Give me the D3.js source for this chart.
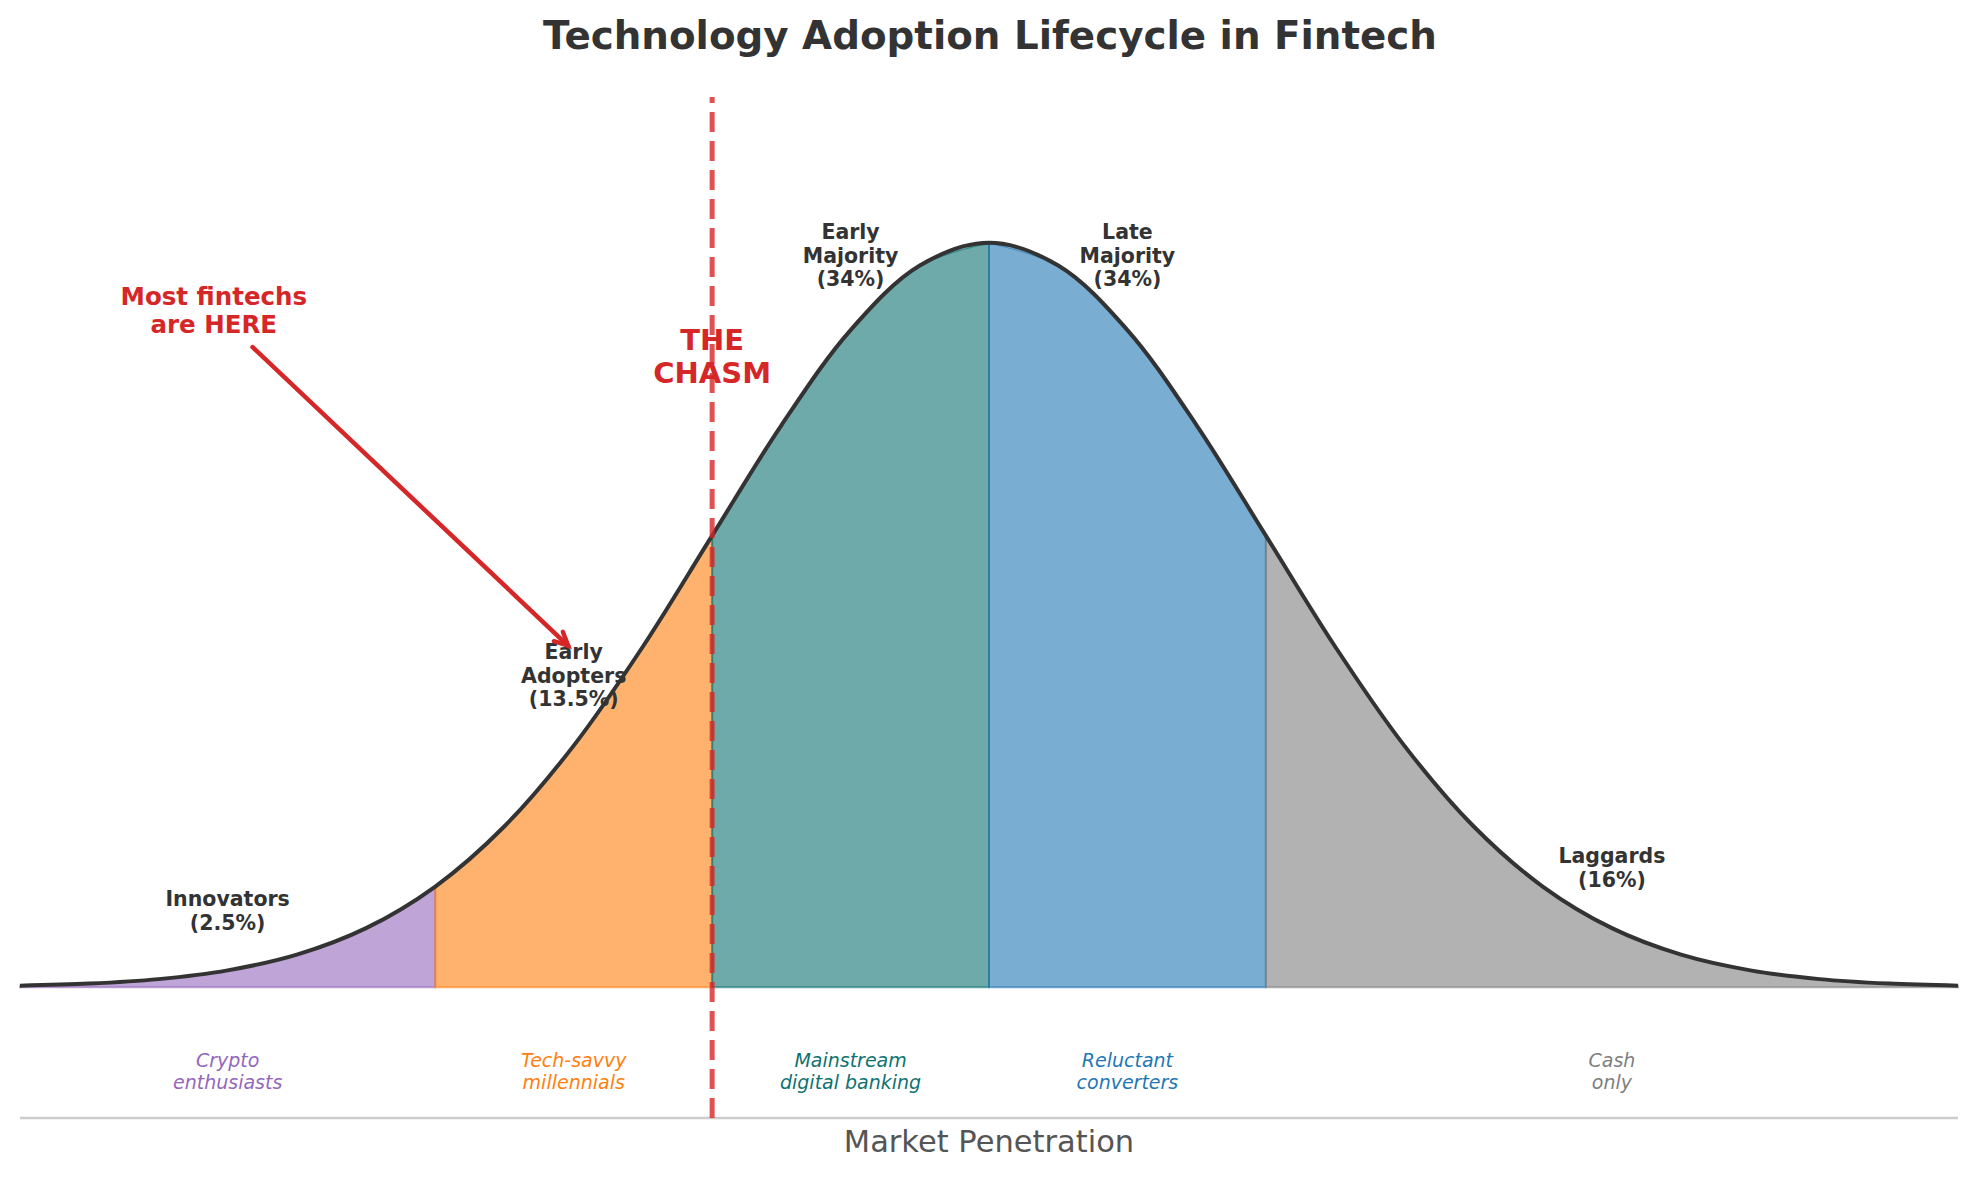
<!DOCTYPE html>
<html>
<head>
<meta charset="utf-8">
<script src="https://cdn.jsdelivr.net/npm/d3@7"></script>
<style>
  body { margin: 0; background: #fff; }
  text { font-family: "DejaVu Sans", sans-serif; }
</style>
</head>
<body>
<div id="target"></div>
<script>
// data
// =========================
// adoption curve, every 0.25 sigma
var curveX = [-3.5, -3.25, -3, -2.75, -2.5, -2.25, -2, -1.75, -1.5, -1.25, -1, -0.75, -0.5, -0.25,
              0, 0.25, 0.5, 0.75, 1, 1.25, 1.5, 1.75, 2, 2.25, 2.5, 2.75, 3, 3.25, 3.5];
var curveY = [0.0009, 0.0020, 0.0044, 0.0091, 0.0175, 0.0317, 0.0540, 0.0863, 0.1295, 0.1826, 0.2420, 0.3011, 0.3521, 0.3867,
              0.3989, 0.3867, 0.3521, 0.3011, 0.2420, 0.1826, 0.1295, 0.0863, 0.0540, 0.0317, 0.0175, 0.0091, 0.0044, 0.0020, 0.0009];

var segments = ['Innovators', 'Early Adopters', 'Early Majority', 'Late Majority', 'Laggards'];
var shares = ['2.5%', '13.5%', '34%', '34%', '16%'];
var bounds = [-3.5, -2, -1, 0, 1, 3.5];
var labelY = [0.041, 0.167, 0.392, 0.392, 0.064];
var descriptions = [['Crypto', 'enthusiasts'], ['Tech-savvy', 'millennials'], ['Mainstream', 'digital banking'],
                    ['Reluctant', 'converters'], ['Cash', 'only']];
var colors = ['#9467bd', '#ff7f0e', '#0f7272', '#1f77b4', '#7f7f7f'];

var chasmX = -1;
var chasmLabel = ['THE', 'CHASM'];
var chasmLabelY = 0.338;
var noteLines = ['Most fintechs', 'are HERE'];
var notePos = [-2.8, 0.3625];
var arrowFrom = [-2.66, 0.343];
var arrowTo = [-1.52, 0.183];

// canvas + scales
// =========================
var W = 1980, H = 1180;
var svg = d3.select('#target').append('svg')
    .attr('width', W)
    .attr('height', H);

var x = d3.scaleLinear().domain([-3.5, 3.5]).range([20, 1958]);
var y = d3.scaleLinear().domain([-0.07, 0.477]).range([1118, 97]);

var pts = curveX.map(function(d, i) { return [d, curveY[i]]; });

// multi line text centred on (cx, cy)
function block(lines, cx, cy, size, opts) {
  var lh = size * 1.15;
  var t = svg.append('text')
      .attr('text-anchor', 'middle')
      .attr('font-size', size)
      .attr('font-weight', opts.weight || 'normal')
      .attr('font-style', opts.style || 'normal')
      .attr('fill', opts.color);
  lines.forEach(function(s, i) {
    t.append('tspan')
        .attr('x', cx)
        .attr('y', cy + (i - (lines.length - 1) / 2) * lh)
        .attr('dominant-baseline', 'central')
        .text(s);
  });
  return t;
}

// filled segments
// =========================
var area = d3.area()
    .x(function(d) { return x(d[0]); })
    .y0(y(0))
    .y1(function(d) { return y(d[1]); })
    .curve(d3.curveCatmullRom);

segments.forEach(function(name, i) {
  var seg = pts.filter(function(p) { return p[0] >= bounds[i] && p[0] <= bounds[i + 1]; });
  svg.append('path')
      .datum(seg)
      .attr('d', area)
      .attr('fill', colors[i])
      .attr('fill-opacity', 0.6)
      .attr('stroke', colors[i])
      .attr('stroke-opacity', 0.6)
      .attr('stroke-width', 2);
});

// bell curve outline
var line = d3.line()
    .x(function(d) { return x(d[0]); })
    .y(function(d) { return y(d[1]); })
    .curve(d3.curveCatmullRom);

svg.append('path')
    .datum(pts)
    .attr('d', line)
    .attr('fill', 'none')
    .attr('stroke', '#333')
    .attr('stroke-width', 4);

// bottom spine
svg.append('line')
    .attr('x1', x(-3.5)).attr('x2', x(3.5))
    .attr('y1', y(-0.07)).attr('y2', y(-0.07))
    .attr('stroke', '#cccccc')
    .attr('stroke-width', 2.5);

// chasm (drawn bottom -> top so the dash phase starts at the spine)
svg.append('line')
    .attr('x1', x(chasmX)).attr('x2', x(chasmX))
    .attr('y1', y(-0.07)).attr('y2', y(0.477))
    .attr('stroke', '#d62728')
    .attr('stroke-opacity', 0.8)
    .attr('stroke-width', 5)
    .attr('stroke-dasharray', '20,9');

block(chasmLabel, x(chasmX), y(chasmLabelY), 29, { weight: 'bold', color: '#d62728' });

// segment labels + descriptions
// =========================
segments.forEach(function(name, i) {
  var mid = (bounds[i] + bounds[i + 1]) / 2;
  var lines = name.split(' ').concat(['(' + shares[i] + ')']);
  block(lines, x(mid), y(labelY[i]), 20.5, { weight: 'bold', color: '#333' });
  block(descriptions[i], x(mid), y(-0.045), 19, { style: 'italic', color: colors[i] });
});

// annotation arrow
// =========================
var ax0 = x(arrowFrom[0]), ay0 = y(arrowFrom[1]);
var ax1 = x(arrowTo[0]), ay1 = y(arrowTo[1]);
var ang = Math.atan2(ay1 - ay0, ax1 - ax0);
var hl = 15, hw = 0.45;

svg.append('line')
    .attr('x1', ax0).attr('y1', ay0)
    .attr('x2', ax1).attr('y2', ay1)
    .attr('stroke', '#d62728')
    .attr('stroke-width', 4.5)
    .attr('stroke-linecap', 'round');

svg.append('path')
    .attr('d', 'M' + (ax1 - hl * Math.cos(ang - hw)) + ',' + (ay1 - hl * Math.sin(ang - hw)) +
               'L' + ax1 + ',' + ay1 +
               'L' + (ax1 - hl * Math.cos(ang + hw)) + ',' + (ay1 - hl * Math.sin(ang + hw)))
    .attr('fill', 'none')
    .attr('stroke', '#d62728')
    .attr('stroke-width', 4.5)
    .attr('stroke-linecap', 'round');

block(noteLines, x(notePos[0]), y(notePos[1]), 24.5, { weight: 'bold', color: '#d62728' });

// title + axis label
// =========================
svg.append('text')
    .attr('x', W / 2)
    .attr('y', 49)
    .attr('text-anchor', 'middle')
    .attr('font-size', 38.8)
    .attr('font-weight', 'bold')
    .attr('fill', '#333')
    .text('Technology Adoption Lifecycle in Fintech');

svg.append('text')
    .attr('x', x(0))
    .attr('y', 1152)
    .attr('text-anchor', 'middle')
    .attr('font-size', 30.5)
    .attr('fill', '#555')
    .text('Market Penetration');
</script>
</body>
</html>
